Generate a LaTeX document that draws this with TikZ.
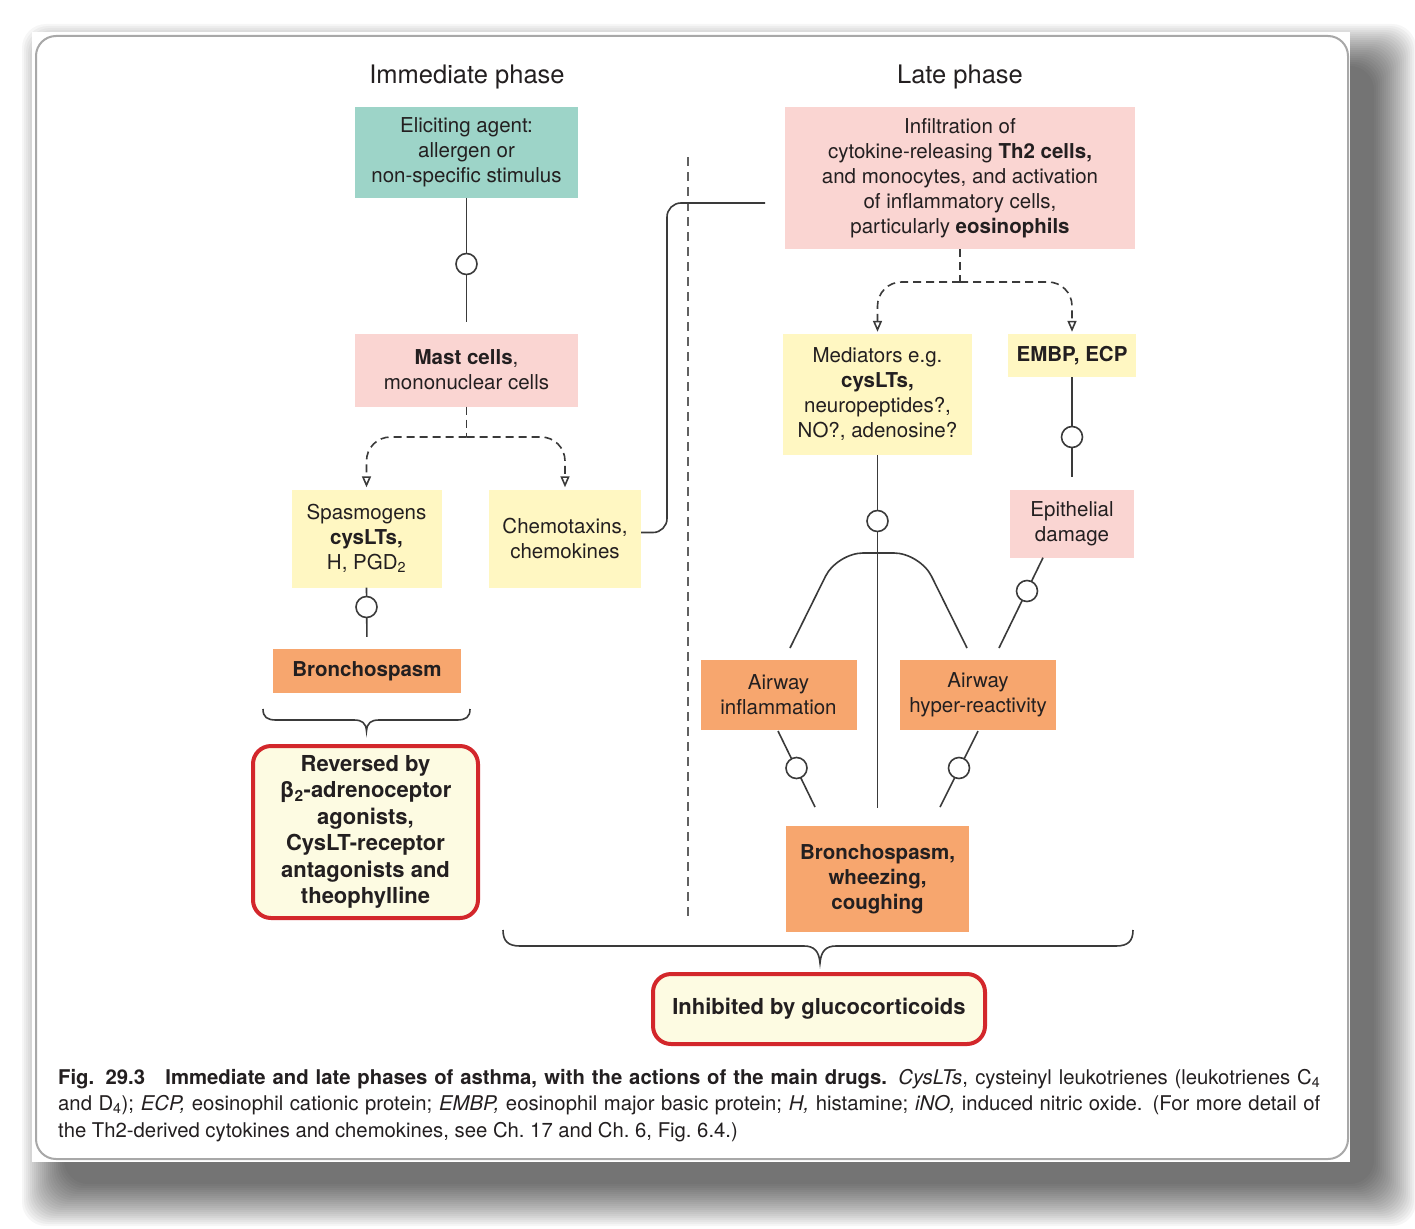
\documentclass[tikz,border=0pt]{standalone}
\usepackage{fontspec}
\setmainfont{TeX Gyre Heros}
\usetikzlibrary{arrows.meta,calc}
\definecolor{cteal}{HTML}{9DD4C8}
\definecolor{cpink}{HTML}{FAD5D2}
\definecolor{cyel}{HTML}{FFF7C2}
\definecolor{corange}{HTML}{F7A66E}
\definecolor{cred}{HTML}{D3272B}
\definecolor{ccream}{HTML}{FDFBE2}
\definecolor{ctxt}{HTML}{231F20}
\definecolor{cline}{HTML}{3A3A3A}
\definecolor{cframe}{HTML}{A8A8A8}
\newcommand\bxfont{\fontsize{20.5}{25}\selectfont}
\newcommand\hdfont{\fontsize{25.5}{30}\selectfont}
\newcommand\rdfont{\fontsize{22}{26.5}\selectfont\bfseries}
\newcommand\cpfont{\fontsize{20.3}{26.5}\selectfont}
\begin{document}
\begin{tikzpicture}[x=1pt,y=-1pt,
  bx/.style={inner sep=0pt, align=center, text=ctxt, font=\bxfont},
  bbx/.style={bx, font=\bxfont\bfseries},
  rbx/.style={inner sep=0pt, align=center, text=ctxt, font=\rdfont, draw=cred, line width=4pt, fill=ccream, rounded corners=18pt},
  hdr/.style={inner sep=0pt, text=ctxt, font=\hdfont},
  ln/.style={draw=cline, line width=1.6pt},
  dsh/.style={draw=cline, line width=1.6pt, dash pattern=on 8pt off 5pt},
  arr/.style={-{Triangle[open, length=11pt, width=9pt]}},
  circ/.style={circle, draw=cline, line width=1.6pt, fill=white, minimum size=21pt, inner sep=0pt},
  brc/.style={draw=cline, line width=1.6pt},
  divl/.style={draw=cline!80, line width=1.6pt, dash pattern=on 9pt off 6pt}]
\useasboundingbox (0,0) rectangle (1415,1228);
% shadow
\foreach \i in {1,...,22}{
  \fill[black, opacity=0.035, rounded corners=24pt]
    ({32+28-(2*\i-6)},{32+30-(2*\i-6)}) rectangle ({1350+28+(2*\i-6)},{1162+26+(2*\i-6)});
}
\fill[white] (32,32) rectangle (1350,1162);
\draw[cframe, line width=2pt, rounded corners=20pt] (36,36) rectangle (1348,1159);

% headings
\node[hdr] (hImm) at (467,77) {Immediate phase};
\node[hdr] (hLate) at (960,77) {Late phase};

% immediate phase boxes
\node[bx, fill=cteal, minimum width=223pt, minimum height=91pt] (elic) at (466.5,152.5) {Eliciting agent:\\allergen or\\non-specific stimulus};
\node[bx, fill=cpink, minimum width=223pt, minimum height=73pt] (mast) at (466.5,370) {\textbf{Mast cells},\\mononuclear cells};
\node[bx, fill=cyel, minimum width=150pt, minimum height=98pt] (spas) at (366.5,538.5) {Spasmogens\\\textbf{cysLTs,}\\H, PGD\textsubscript{2}};
\node[bx, fill=cyel, minimum width=152pt, minimum height=98pt] (chemo) at (565,538.5) {Chemotaxins,\\chemokines};
\node[bbx, fill=corange, minimum width=188pt, minimum height=44pt] (bron1) at (367,671) {Bronchospasm};
\node[rbx, minimum width=225pt, minimum height=172pt] (rev) at (365.5,832) {Reversed by\\β\textsubscript{2}-adrenoceptor\\agonists,\\CysLT-receptor\\antagonists and\\theophylline};

% late phase boxes
\node[bx, fill=cpink, minimum width=350pt, minimum height=142pt] (infil) at (960,178) {Infiltration of\\cytokine-releasing \textbf{Th2 cells,}\\and monocytes, and activation\\of inflammatory cells,\\particularly \textbf{eosinophils}};
\node[bx, fill=cyel, minimum width=189pt, minimum height=121pt] (medi) at (877.5,394.5) {Mediators e.g.\\\textbf{cysLTs,}\\neuropeptides?,\\NO?, adenosine?};
\node[bbx, fill=cyel, minimum width=128pt, minimum height=43pt] (embp) at (1072,355.5) {EMBP, ECP};
\node[bx, fill=cpink, minimum width=124pt, minimum height=68pt] (epi) at (1072,523.5) {Epithelial\\damage};
\node[bx, fill=corange, minimum width=156pt, minimum height=70pt] (ainf) at (778.5,695) {Airway\\inflammation};
\node[bx, fill=corange, minimum width=156pt, minimum height=70pt] (ahyp) at (978,695) {Airway\\hyper-reactivity};
\node[bbx, fill=corange, minimum width=183pt, minimum height=106pt] (bron2) at (877.5,879) {Bronchospasm,\\wheezing,\\coughing};
\node[rbx, minimum width=332pt, minimum height=70pt] (inhib) at (819,1009) {Inhibited by glucocorticoids};

% divider
\coordinate (dvT) at (688,157);
\coordinate (dvB) at (688,920);
\draw[divl] (dvT) -- (dvB);

% immediate phase connectors
\draw[ln, shorten >=11pt] (elic.south) -- (mast.north);
\node[circ] (c1) at (466.5,264) {};
\coordinate (mj) at (466.5,437);
\draw[dsh] (mast.south) -- (mj);
\draw[dsh, arr, rounded corners=24pt, shorten >=2pt] (mj) -| (spas.north);
\draw[dsh, arr, rounded corners=24pt, shorten >=2pt] (mj) -| (chemo.north);
\draw[ln, shorten >=12pt] (spas.south) -- (bron1.north);
\node[circ] (c2) at (366.5,607) {};
\coordinate (infEnd) at (765,203);
\draw[ln, rounded corners=14pt] ($(chemo.east)+(0,-6)$) -| (667,203) -- (infEnd);

% late phase connectors
\coordinate (lj) at (960,282);
\draw[dsh] (infil.south) -- (lj);
\draw[dsh, arr, rounded corners=24pt, shorten >=2pt] (lj) -| (medi.north);
\draw[dsh, arr, rounded corners=24pt, shorten >=2pt] (lj) -| (embp.north);
\draw[ln, shorten >=12pt] (embp.south) -- (epi.north);
\node[circ] (c3) at (1072,437) {};
\coordinate (epiS) at ($(epi.south)+(-29,0)$);
\coordinate (hypT) at (999,648);
\draw[ln] (epiS) -- (hypT);
\node[circ] (c4) at (1027,591) {};
\draw[ln, shorten >=18pt] (medi.south) -- (bron2.north);
\node[circ] (c5) at (877.5,521) {};
\coordinate (archL) at (790,648);
\coordinate (archR) at (967,648);
\draw[ln, rounded corners=26pt] (archL) -- (837,553) -- (920,553) -- (archR);
\coordinate (infB) at (778,731);
\coordinate (brL) at (815,807);
\draw[ln] (infB) -- (brL);
\node[circ] (c6) at (796.5,768) {};
\coordinate (hypB) at (978,731);
\coordinate (brR) at (940,807);
\draw[ln] (hypB) -- (brR);
\node[circ] (c7) at (959,768) {};

% braces
\draw[brc] (263,709) .. controls (263,717) and (267,720) .. (276,720) -- (354,720) .. controls (362,720) and (366,723) .. (366.5,731)
  .. controls (367,723) and (371,720) .. (379,720) -- (457,720) .. controls (466,720) and (470,717) .. (470,709);
\draw[brc] (503,930) .. controls (503,941) and (508,946) .. (520,946) -- (804,946) .. controls (814,946) and (819,951) .. (820,963)
  .. controls (821,951) and (826,946) .. (836,946) -- (1116,946) .. controls (1128,946) and (1133,941) .. (1133,930);

% caption
\node[anchor=north west, inner sep=0pt, text width=1262pt, align=justify, text=ctxt, font=\cpfont] (cap) at (58,1069) {\textbf{Fig. 29.3}\hspace{1em}\textbf{Immediate and late phases of asthma, with the actions of the main drugs.} \textit{CysLTs}, cysteinyl leukotrienes (leukotrienes C\textsubscript{4}\linebreak and D\textsubscript{4}); \textit{ECP,} eosinophil cationic protein; \textit{EMBP,} eosinophil major basic protein; \textit{H,} histamine; \textit{iNO,} induced nitric oxide. (For more detail of\linebreak the Th2-derived cytokines and chemokines, see Ch.~17 and Ch.~6, Fig.~6.4.)};
\end{tikzpicture}
\end{document}
